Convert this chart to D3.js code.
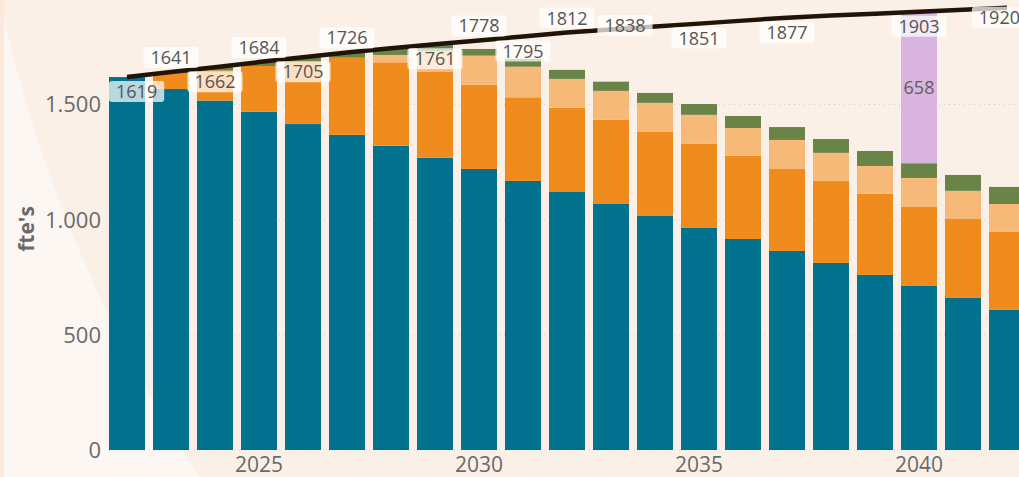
<!DOCTYPE html>
<html>
<head>
<meta charset="utf-8">
<script src="https://cdn.jsdelivr.net/npm/d3@7"></script>
<style>
    body { margin: 0; background: #faf0e7; }
    svg { display: block; }
    text { font-family: "Open Sans", "Noto Sans", sans-serif; }
</style>
</head>
<body>
<div id="chart"></div>
<script>
var years = [2022, 2023, 2024, 2025, 2026, 2027, 2028, 2029, 2030, 2031, 2032,
             2033, 2034, 2035, 2036, 2037, 2038, 2039, 2040, 2041, 2042];

// stacked series, bottom to top
var teal = [1619, 1567, 1517, 1469, 1415, 1368, 1321, 1269, 1220, 1168, 1120,
            1068, 1016, 964, 916, 864, 812, 760, 712, 660, 608];
var orange = [0, 71, 131, 198, 270, 335, 362, 372, 365, 363, 366,
              366, 365, 365, 361, 356, 356, 352, 343, 343, 339];
var lightOrange = [0, 0, 0, 0, 0, 0, 32, 90, 127, 133, 125,
                   125, 126, 126, 121, 126, 122, 121, 126, 122, 121];
var green = [0, 3, 14, 17, 20, 22, 29, 27, 29, 34, 39,
             40, 43, 47, 52, 56, 60, 65, 64, 69, 74];
var gap = [0, 0, 0, 0, 0, 0, 0, 0, 0, 0, 0,
           0, 0, 0, 0, 0, 0, 0, 658, 0, 0];

// demand line
var demand = [1619, 1641, 1662, 1684, 1705, 1726, 1744, 1761, 1778, 1795, 1812,
              1825, 1838, 1851, 1864, 1877, 1886, 1894, 1903, 1911, 1920];

// which points get a label, and where
var labelYears = [2022, 2023, 2024, 2025, 2026, 2027, 2029, 2030, 2031, 2032,
                  2034, 2035, 2037, 2040, 2042];
var labelPlace = ["below", "above", "below", "above", "below", "above", "below", "above", "below", "above",
                  "on", "below", "below", "below", "top"];

var yTicks = [0, 500, 1000, 1500];
var xTicks = [2025, 2030, 2035, 2040];

var seriesNames = ["teal", "orange", "lightOrange", "green", "gap"];
var seriesColors = ["#02718d", "#f08c1e", "#f6b978", "#6a8447", "#d8b4df"];

var width = 1019, height = 477;

var svg = d3.select("#chart")
    .append("svg")
        .attr("width", width)
        .attr("height", height)
        .attr("xmlns", "http://www.w3.org/2000/svg")

// background with the lighter wedge on the left
svg.append("rect")
    .attr("width", width)
    .attr("height", height)
    .attr("fill", "#faf0e7")

svg.append("rect")
    .attr("x", 0)
    .attr("width", 4)
    .attr("height", height)
    .attr("fill", "#fbe9dc")

svg.append("path")
    .attr("d", "M4,18 Q60,262 200,477 L4,477 Z")
    .attr("fill", "#fcf7f3")

var x = d3.scaleBand()
    .domain(years)
    .range([105, 105 + 44 * years.length])
    .paddingInner(8 / 44)
    .paddingOuter(4 / 44)

var y = d3.scaleLinear()
    .domain([0, 2000])
    .range([450, -10.7])

var plotLeft = 109, plotRight = 1027;

// grid
svg.append("g")
    .selectAll("line")
    .data(yTicks)
    .join("line")
        .attr("x1", plotLeft)
        .attr("x2", width)
        .attr("y1", function(d) { return y(d) })
        .attr("y2", function(d) { return y(d) })
        .attr("stroke", "#d6cdc3")
        .attr("stroke-width", 1)
        .attr("stroke-dasharray", "1,4")

// stacked bars
var rows = years.map(function(yr, i) {
    return { year: yr, teal: teal[i], orange: orange[i], lightOrange: lightOrange[i], green: green[i], gap: gap[i] }
})

var stack = d3.stack().keys(seriesNames)(rows)

svg.append("g")
    .selectAll("g")
    .data(stack)
    .join("g")
        .attr("fill", function(d, i) { return seriesColors[i] })
    .selectAll("rect")
    .data(function(d) { return d })
    .join("rect")
        .attr("x", function(d) { return x(d.data.year) })
        .attr("width", x.bandwidth())
        .attr("y", function(d) { return y(d[1]) })
        .attr("height", function(d) { return y(d[0]) - y(d[1]) })

// gap label inside the purple segment
var gapLayer = stack[4]
svg.append("g")
    .selectAll("text")
    .data(gapLayer.filter(function(d) { return d[1] - d[0] > 0 }))
    .join("text")
        .attr("x", function(d) { return x(d.data.year) + x.bandwidth() / 2 })
        .attr("y", function(d) { return (y(d[0]) + y(d[1])) / 2 })
        .attr("dy", "0.35em")
        .attr("text-anchor", "middle")
        .attr("font-size", 18)
        .attr("fill", "#5e5e5e")
        .text(function(d) { return d[1] - d[0] })

// demand line
var lineData = years.map(function(yr, i) { return [yr, demand[i]] })

var line = d3.line()
    .x(function(d) { return x(d[0]) + x.bandwidth() / 2 })
    .y(function(d) { return y(d[1]) })

svg.append("path")
    .datum(lineData)
    .attr("d", line)
    .attr("fill", "none")
    .attr("stroke", "#201408")
    .attr("stroke-width", 4.5)

// value labels on the line
var boxH = 21;
var labelGroup = svg.append("g")

labelYears.forEach(function(yr, i) {
    var idx = years.indexOf(yr)
    var value = demand[idx]
    var cx = x(yr) + x.bandwidth() / 2
    var place = labelPlace[i]
    if (place == "on") cx -= 30
    var ly = y(value)

    var g = labelGroup.append("g")
    var bg = g.append("rect")
        .attr("rx", 3)
        .attr("ry", 3)
        .attr("fill", "#ffffff")
        .attr("fill-opacity", 0.72)

    var t = g.append("text")
        .attr("text-anchor", "middle")
        .attr("font-size", 18)
        .attr("fill", "#555555")
        .text(value)

    var w = t.node().getBBox().width + 14
    var left = Math.max(plotLeft, Math.min(plotRight - w, cx - w / 2))
    var top;
    if (place == "above") top = ly - 4 - boxH
    else if (place == "below") top = ly + 4
    else if (place == "top") top = ly - 1
    else top = ly - boxH / 2 - 1

    bg.attr("x", left)
        .attr("y", top)
        .attr("width", w)
        .attr("height", boxH)
    t.attr("x", left + w / 2)
        .attr("y", top + boxH / 2)
        .attr("dy", "0.36em")
})

// y axis labels
svg.append("g")
    .selectAll("text")
    .data(yTicks)
    .join("text")
        .attr("x", 101)
        .attr("y", function(d) { return y(d) })
        .attr("dy", "0.36em")
        .attr("text-anchor", "end")
        .attr("font-size", 22)
        .attr("fill", "#6a6a6a")
        .text(function(d) { return d3.format(",")(d).replace(/,/g, ".") })

svg.append("text")
    .attr("transform", "translate(34, 229) rotate(-90)")
    .attr("text-anchor", "middle")
    .attr("font-size", 21)
    .attr("font-weight", "bold")
    .attr("fill", "#6a6a6a")
    .text("fte's")

// x axis labels
svg.append("g")
    .selectAll("text")
    .data(xTicks)
    .join("text")
        .attr("x", function(d) { return x(d) + x.bandwidth() / 2 })
        .attr("y", 472)
        .attr("text-anchor", "middle")
        .attr("font-size", 21)
        .attr("fill", "#6a6a6a")
        .text(function(d) { return d })
</script>
</body>
</html>
